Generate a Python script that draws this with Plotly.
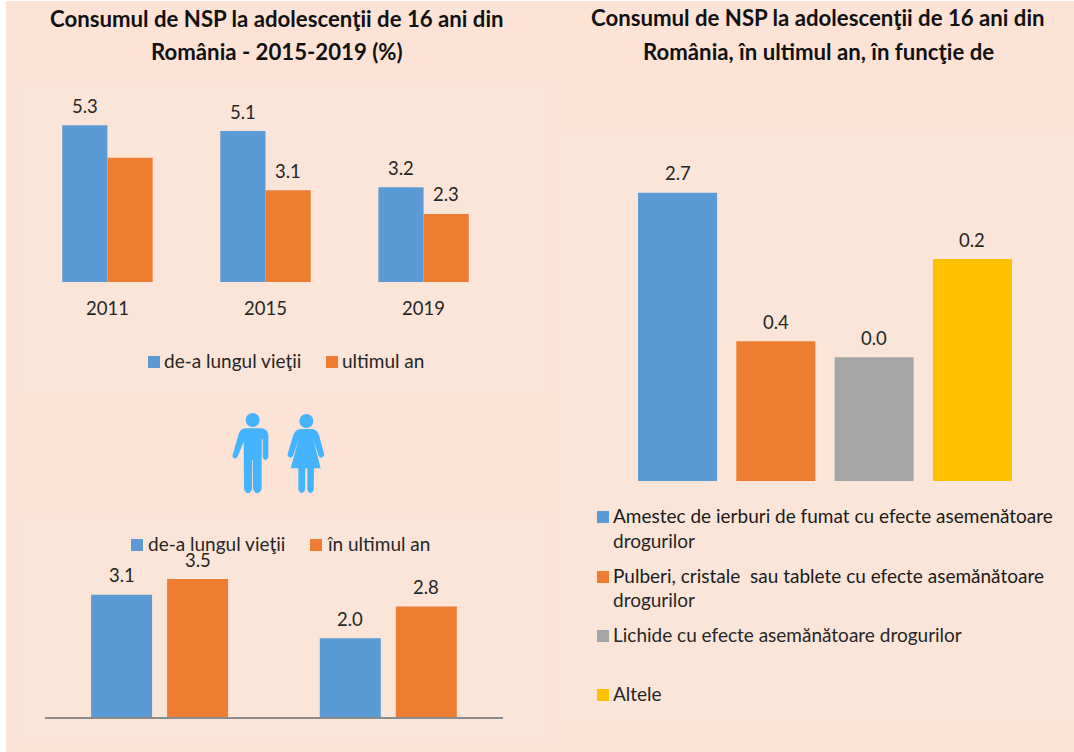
import plotly.graph_objects as go

# ---- data ----
years = ["2011", "2015", "2019"]
lifetime_by_year = [5.3, 5.1, 3.2]
lastyear_by_year = [4.2, 3.1, 2.3]
lastyear_labels = ["", "3.1", "2.3"]

sex_groups = ["Băieţi", "Fete"]
lifetime_by_sex = [3.1, 2.0]
lastyear_by_sex = [3.5, 2.8]

substance_names = [
    "Amestec de ierburi de fumat cu efecte asemenătoare drogurilor",
    "Pulberi, cristale  sau tablete cu efecte asemănătoare drogurilor",
    "Lichide cu efecte asemănătoare drogurilor",
    "Altele",
]
substance_bar_heights = [2.7, 1.31, 1.16, 2.08]  # heights as drawn in the picture
substance_labels = ["2.7", "0.4", "0.0", "0.2"]

title_left = ["Consumul de NSP la adolescenţii de 16 ani din", "România - 2015-2019 (%)"]
title_right = ["Consumul de NSP la adolescenţii de 16 ani din", "România, în ultimul an, în funcţie de"]

legend_top = ["de-a lungul vieţii", "ultimul an"]
legend_mid = ["de-a lungul vieţii", "în ultimul an"]

# ---- style ----
W, H = 1074, 752
BLUE, ORANGE, GREY, YELLOW = "#5B9BD5", "#ED7D31", "#A5A5A5", "#FFC000"
BG, PANEL, ICON = "#FCE3D6", "#FBE5D8", "#45B4FF"
FONT = "Lato"
TXT = "#262626"
LABEL_SIZE = 18.5
LEGEND_SIZE = 19


def px(x):
    return x / W


def py(y):
    return 1 - y / H


fig = go.Figure()

# chart 1
w1 = 0.286
fig.add_bar(x=years, y=lifetime_by_year, name=legend_top[0], marker_color=BLUE, width=w1, offset=-w1,
            xaxis="x", yaxis="y")
fig.add_bar(x=years, y=lastyear_by_year, name=legend_top[1], marker_color=ORANGE, width=w1, offset=0,
            xaxis="x", yaxis="y")
# chart 3 (bottom left)
w3, g3 = 0.2667, 0.0328
fig.add_bar(x=sex_groups, y=lifetime_by_sex, name=legend_mid[0], marker_color=BLUE, width=w3, offset=-w3 - g3,
            xaxis="x2", yaxis="y2")
fig.add_bar(x=sex_groups, y=lastyear_by_sex, name=legend_mid[1], marker_color=ORANGE, width=w3, offset=g3,
            xaxis="x2", yaxis="y2")
# chart 2 (right)
w2 = 0.804
fig.add_bar(x=substance_names, y=substance_bar_heights, marker_color=[BLUE, ORANGE, GREY, YELLOW], width=w2,
            xaxis="x3", yaxis="y3")
fig.update_traces(marker_line_width=0, showlegend=False, hoverinfo="skip")

annotations = []


def text(x, y, s, size=LABEL_SIZE, color=TXT, bold=False, anchor="center"):
    annotations.append(dict(
        xref="paper", yref="paper", x=px(x), y=py(y), text=f"<b>{s}</b>" if bold else s,
        showarrow=False, xanchor=anchor, yanchor="middle",
        font=dict(family=FONT, size=size, color=color), borderpad=0, borderwidth=0))


def value_label(axis_x, axis_y, x, y, s):
    annotations.append(dict(
        xref=axis_x, yref=axis_y, x=x, y=y, yshift=19.5, text=s, showarrow=False, xanchor="center",
        yanchor="middle", font=dict(family=FONT, size=LABEL_SIZE, color=TXT), borderpad=0))


for i, v in enumerate(lifetime_by_year):
    value_label("x", "y", i - w1 / 2, v, f"{v:.1f}")
for i, (v, s) in enumerate(zip(lastyear_by_year, lastyear_labels)):
    if s:
        value_label("x", "y", i + w1 / 2, v, s)
for i, v in enumerate(lifetime_by_sex):
    value_label("x2", "y2", i - w3 / 2 - g3, v, f"{v:.1f}")
for i, v in enumerate(lastyear_by_sex):
    value_label("x2", "y2", i + w3 / 2 + g3, v, f"{v:.1f}")
for i, (v, s) in enumerate(zip(substance_bar_heights, substance_labels)):
    value_label("x3", "y3", i, v, s)

# titles
TS = 22.2
text(277, 19, title_left[0], TS, "#111111", True)
text(277, 51, title_left[1], TS, "#111111", True)
text(818, 18, title_right[0], TS, "#111111", True)
text(818, 51, title_right[1], TS, "#111111", True)

shapes = []


def rect(x0, y0, x1, y1, color):
    shapes.append(dict(type="rect", xref="paper", yref="paper", x0=px(x0), x1=px(x1), y0=py(y1), y1=py(y0),
                       fillcolor=color, line_width=0, layer="below"))


rect(6, 1, W, H, BG)
rect(17, 84, 549, 392, PANEL)
rect(17, 517, 549, 737, PANEL)
rect(560, 132, W, 720, PANEL)


def swatch(x, cy, color):
    rect(x, cy - 6, x + 12, cy + 6, color)


# legends: swatch centre and text centre differ slightly in the reference
LEG_DY = -1.5
swatch(148, 362, BLUE)
text(164, 362 + LEG_DY, legend_top[0], LEGEND_SIZE, TXT, anchor="left")
swatch(326, 362, ORANGE)
text(342, 362 + LEG_DY, legend_top[1], LEGEND_SIZE, TXT, anchor="left")

swatch(131, 545, BLUE)
text(148, 545 + LEG_DY, legend_mid[0], LEGEND_SIZE, TXT, anchor="left")
swatch(310, 545, ORANGE)
text(327, 545 + LEG_DY, legend_mid[1], LEGEND_SIZE, TXT, anchor="left")

swatch(597, 517, BLUE)
text(613, 517 + LEG_DY, substance_names[0].rsplit(" ", 1)[0], LEGEND_SIZE, "#1a1a1a", anchor="left")
text(613, 542 + LEG_DY, substance_names[0].rsplit(" ", 1)[1], LEGEND_SIZE, TXT, anchor="left")
swatch(597, 577, ORANGE)
text(613, 577 + LEG_DY, substance_names[1].rsplit(" ", 1)[0], LEGEND_SIZE, "#1a1a1a", anchor="left")
text(613, 601 + LEG_DY, substance_names[1].rsplit(" ", 1)[1], LEGEND_SIZE, TXT, anchor="left")
swatch(597, 636, GREY)
text(613, 636 + LEG_DY, substance_names[2], LEGEND_SIZE, TXT, anchor="left")
swatch(597, 695, YELLOW)
text(613, 695 + LEG_DY, substance_names[3], LEGEND_SIZE, TXT, anchor="left")


# people icons, drawn from crop coordinates (crop at 200,400, 3x)
def cx(v):
    return px(200 + v / 3)


def cy(v):
    return py(400 + v / 3)


def icon_path(segments):
    out = []
    for seg in segments:
        cmd, pts = seg[0], seg[1:]
        out.append(cmd + " " + " ".join(f"{cx(a):.5f},{cy(b):.5f}" for a, b in pts))
    return " ".join(out) + " Z"


def icon(segments):
    shapes.append(dict(type="path", xref="paper", yref="paper", path=icon_path(segments), fillcolor=ICON,
                       line_width=0))


def head(x, y, r):
    shapes.append(dict(type="circle", xref="paper", yref="paper", x0=cx(x - r), x1=cx(x + r), y0=cy(y + r),
                       y1=cy(y - r), fillcolor=ICON, line_width=0))


head(158, 60, 21)
head(319, 63, 21)
icon([("M", (135, 85)), ("L", (182, 85)), ("Q", (203, 86), (205, 105)), ("L", (205, 172)),
      ("Q", (196, 190), (188, 172)), ("L", (188, 118)), ("L", (185, 118)), ("L", (185, 268)),
      ("Q", (172, 292), (159, 268)), ("L", (158, 180)), ("L", (156, 180)), ("L", (156, 268)),
      ("Q", (144, 292), (132, 268)), ("L", (131, 125)), ("L", (113, 170)), ("Q", (103, 182), (97, 168)),
      ("L", (116, 102)), ("Q", (122, 86), (135, 85))])
icon([("M", (300, 87)), ("L", (338, 87)), ("Q", (352, 89), (358, 108)), ("L", (373, 165)),
      ("Q", (365, 180), (356, 168)), ("L", (340, 118)), ("L", (362, 205)), ("L", (342, 205)), ("L", (341, 270)),
      ("Q", (332, 290), (322, 270)), ("L", (322, 205)), ("L", (316, 205)), ("L", (315, 270)),
      ("Q", (305, 290), (295, 270)), ("L", (295, 205)), ("L", (272, 205)), ("L", (296, 118)),
      ("L", (279, 168)), ("Q", (270, 180), (262, 165)), ("L", (279, 108)), ("Q", (285, 89), (300, 87))])


def domx(a, b):
    return [px(a), px(b)]


def domy(top, base):
    return [py(base), py(top)]


hidden = dict(showgrid=False, zeroline=False, showticklabels=False, ticks="", showline=False, fixedrange=True)
fig.update_layout(
    width=W, height=H, autosize=False, margin=dict(l=0, r=0, t=0, b=0),
    paper_bgcolor="#FFFFFF", plot_bgcolor="rgba(0,0,0,0)", showlegend=False,
    font=dict(family=FONT, size=LABEL_SIZE, color=TXT),
    shapes=shapes, annotations=annotations,
    xaxis=dict(domain=domx(28.4, 502.6), type="category", range=[-0.5, 2.5], anchor="y", showgrid=False,
               zeroline=False, showline=False, ticks="", ticklabelstandoff=13,
               tickfont=dict(family=FONT, size=LABEL_SIZE, color=TXT)),
    yaxis=dict(domain=domy(84, 282), range=[0, 6.69], anchor="x", **hidden),
    xaxis2=dict(domain=domx(45.25, 502.65), type="category", range=[-0.5, 1.5], anchor="y2", showgrid=False,
                zeroline=False, showticklabels=False, ticks="", showline=True, linecolor="#8C8C8C", linewidth=1.5),
    yaxis2=dict(domain=domy(540, 717), range=[0, 4.49], anchor="x2", **hidden),
    xaxis3=dict(domain=domx(628.4, 1021.6), type="category", range=[-0.5, 3.5], anchor="y3", **hidden),
    yaxis3=dict(domain=domy(132, 481), range=[0, 3.27], anchor="x3", **hidden),
)

fig.write_html("out.html", config=dict(displayModeBar=False),
               post_script="document.body.style.margin='0';document.body.style.overflow='hidden';")
